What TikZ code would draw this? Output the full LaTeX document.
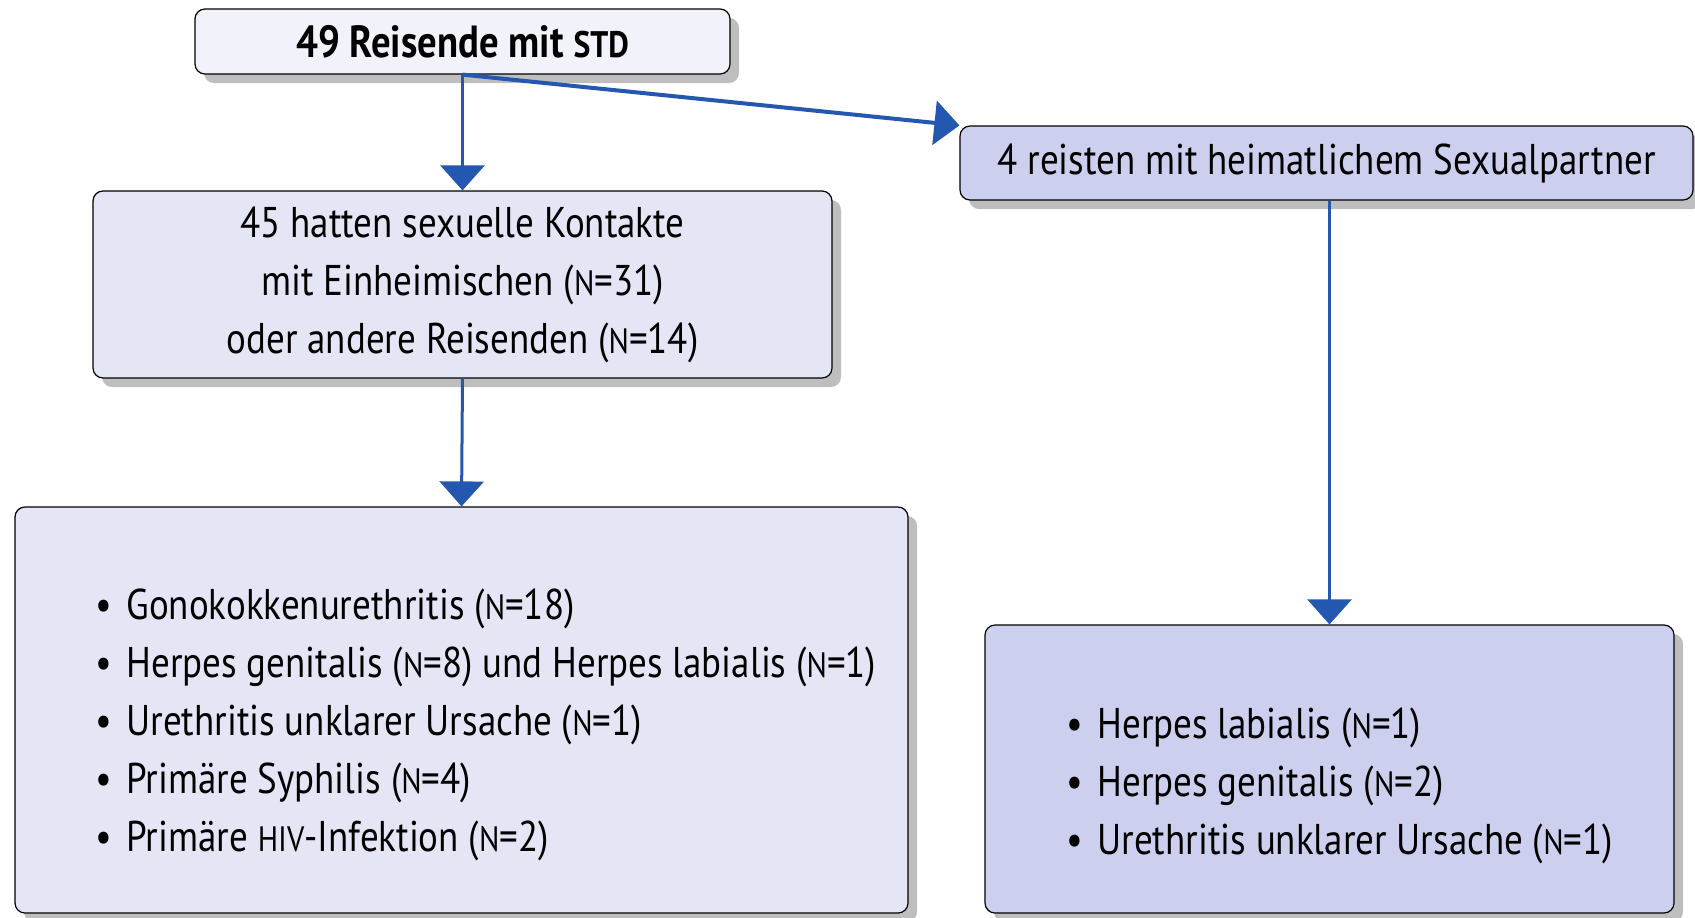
\documentclass[tikz,border=0pt]{standalone}
\usepackage{fontspec}
\setmainfont{PT Sans}[FakeStretch=0.86]
\usetikzlibrary{arrows.meta,positioning,shadows}
\definecolor{stdblue}{RGB}{36,87,176}
\definecolor{boxpale}{RGB}{242,242,250}
\definecolor{boxlight}{RGB}{229,230,245}
\definecolor{boxdeep}{RGB}{204,207,237}
\definecolor{shadowgray}{RGB}{190,190,190}
\newcommand{\kap}[1]{\scalebox{0.82}{#1}}
\newcommand{\pkt}{\makebox[15.5pt][l]{\textbullet}}

\begin{document}
\begin{tikzpicture}[
    x=0.5pt, y=-0.5pt,
    kasten/.style={
      draw=black, line width=0.6pt, rounded corners=5pt,
      inner sep=0pt, align=center,
      drop shadow={shadow xshift=4.5pt, shadow yshift=-4.5pt,
                   fill=shadowgray, opacity=1}
    },
    liste/.style={anchor=west, align=left, inner sep=0pt},
    pfeil/.style={-{Triangle[length=12.5pt,width=22pt]},
                  line width=1.5pt, draw=stdblue},
    font=\fontsize{21.5}{29}\selectfont
  ]
  \useasboundingbox (0,0) rectangle (1695,917);

  %% Ausgangsgruppe
  \node[kasten, fill=boxpale, minimum width=267.5pt, minimum height=32.5pt,
        font=\fontsize{22.5}{29}\selectfont\bfseries] (alle) at (462.5,41.5)
        {49 Reisende mit \kap{STD}};

  %% linker Zweig
  \node[kasten, fill=boxlight, minimum width=369.5pt, minimum height=93.5pt]
        (lokal) at (462.5,284.5)
        {45 hatten sexuelle Kontakte\\mit Einheimischen (\kap{N}=31)\\oder andere Reisenden (\kap{N}=14)};
  \node[kasten, fill=boxlight, minimum width=446.5pt, minimum height=203pt]
        (diagL) at (461.5,710) {};
  \node[liste] (listeL) at (95,725)
        {\pkt Gonokokkenurethritis (\kap{N}=18)\\
         \pkt Herpes genitalis (\kap{N}=8) und Herpes labialis (\kap{N}=1)\\
         \pkt Urethritis unklarer Ursache (\kap{N}=1)\\
         \pkt Primäre Syphilis (\kap{N}=4)\\
         \pkt Primäre \kap{HIV}-Infektion (\kap{N}=2)};

  %% rechter Zweig
  \node[kasten, fill=boxdeep, minimum width=366.5pt, minimum height=37pt]
        (heimat) at (1326.5,163) {4 reisten mit heimatlichem Sexualpartner};
  \node[kasten, fill=boxdeep, minimum width=344.5pt, minimum height=144pt]
        (diagR) at (1329.5,769) {};
  \node[liste] (listeR) at (1066,786)
        {\pkt Herpes labialis (\kap{N}=1)\\
         \pkt Herpes genitalis (\kap{N}=2)\\
         \pkt Urethritis unklarer Ursache (\kap{N}=1)};

  \draw[pfeil] (alle.south) -- (lokal.north);
  \draw[pfeil, line width=2pt] (alle.south) -- (heimat.north west);
  \draw[pfeil] (lokal.south) -- (diagL.north);
  \draw[pfeil] (diagR.north |- heimat.south) -- (diagR.north);

\end{tikzpicture}
\end{document}
